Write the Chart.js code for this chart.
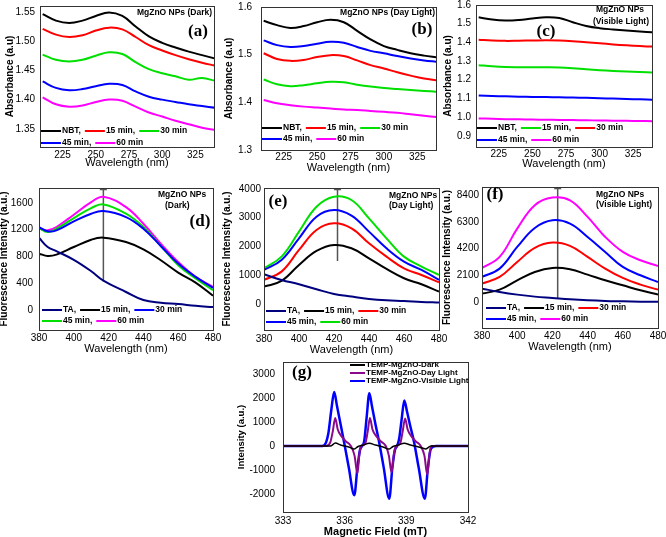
<!DOCTYPE html>
<html>
<head>
<meta charset="utf-8">
<script src="https://cdn.jsdelivr.net/npm/chart.js@4.4.1/dist/chart.umd.min.js"></script>
<style>
body { margin: 0; width: 666px; height: 537px; overflow: hidden; background: #fff; position: relative; }
canvas { position: absolute; }
</style>
</head>
<body>
<script>
const SANS = '"Liberation Sans", Arial, sans-serif';
const SERIF = '"Liberation Serif", "Times New Roman", serif';

const BLACK = '#000000', RED = '#ff0000', GREEN = '#00e000', BLUE = '#0000ff',
      MAGENTA = '#ff00ff', NAVY = '#00007f', PURPLE = '#8b0a8b', MARK = '#555555';

// ---- UV-vis absorbance (NBT) ----
const UV_X = [210, 220, 230, 240, 250, 260, 270, 280, 290, 300, 310, 320, 330, 340];
const UV_TICKS_X = [225, 250, 275, 300, 325];

const DARK_NBT = [1.546, 1.535, 1.531, 1.535, 1.543, 1.549, 1.543, 1.525, 1.508, 1.497, 1.489, 1.482, 1.476, 1.470];
const DARK_15 = [1.521, 1.511, 1.507, 1.510, 1.518, 1.523, 1.520, 1.507, 1.493, 1.484, 1.476, 1.469, 1.463, 1.458];
const DARK_30 = [1.477, 1.468, 1.465, 1.468, 1.475, 1.481, 1.478, 1.464, 1.452, 1.445, 1.440, 1.434, 1.437, 1.432];
const DARK_45 = [1.431, 1.420, 1.416, 1.418, 1.423, 1.427, 1.425, 1.414, 1.405, 1.400, 1.396, 1.392, 1.389, 1.386];
const DARK_60 = [1.404, 1.392, 1.388, 1.390, 1.396, 1.400, 1.398, 1.388, 1.378, 1.371, 1.364, 1.358, 1.352, 1.348];
const DARK_TICKS_Y = [1.35, 1.40, 1.45, 1.50, 1.55];

const DAY_NBT = [1.571, 1.562, 1.556, 1.560, 1.568, 1.573, 1.568, 1.550, 1.532, 1.518, 1.510, 1.503, 1.498, 1.494];
const DAY_15 = [1.503, 1.491, 1.487, 1.489, 1.495, 1.499, 1.497, 1.488, 1.478, 1.471, 1.463, 1.456, 1.450, 1.446];
const DAY_30 = [1.448, 1.438, 1.434, 1.436, 1.440, 1.443, 1.442, 1.437, 1.433, 1.430, 1.428, 1.426, 1.424, 1.422];
const DAY_45 = [1.530, 1.520, 1.516, 1.518, 1.523, 1.527, 1.525, 1.516, 1.508, 1.503, 1.497, 1.492, 1.488, 1.485];
const DAY_60 = [1.405, 1.398, 1.394, 1.391, 1.389, 1.387, 1.385, 1.384, 1.382, 1.380, 1.378, 1.375, 1.372, 1.369];
const DAY_TICKS_Y = [1.3, 1.4, 1.5, 1.6];

const VIS_NBT = [1.534, 1.522, 1.517, 1.520, 1.528, 1.534, 1.530, 1.508, 1.488, 1.476, 1.469, 1.463, 1.458, 1.454];
const VIS_15 = [1.278, 1.272, 1.268, 1.267, 1.267, 1.267, 1.266, 1.262, 1.256, 1.251, 1.247, 1.244, 1.241, 1.238];
const VIS_30 = [1.414, 1.410, 1.408, 1.409, 1.410, 1.411, 1.410, 1.406, 1.400, 1.395, 1.389, 1.384, 1.380, 1.377];
const VIS_45 = [1.116, 1.113, 1.111, 1.109, 1.108, 1.107, 1.106, 1.105, 1.103, 1.101, 1.099, 1.097, 1.095, 1.093];
const VIS_60 = [0.993, 0.991, 0.989, 0.988, 0.987, 0.986, 0.985, 0.984, 0.983, 0.982, 0.981, 0.980, 0.979, 0.978];
const VIS_TICKS_Y = [0.9, 1.0, 1.1, 1.2, 1.3, 1.4, 1.5, 1.6];

// ---- Fluorescence (TA) ----
const FL_TICKS_X = [380, 400, 420, 440, 460, 480];

const FD_X = [380, 385, 390, 400, 410, 417, 430, 440, 450, 460, 470, 480];
const FD_TA = [1080, 940, 880, 750, 580, 440, 270, 150, 110, 90, 65, 45];
const FD_15 = [842, 807, 827, 941, 1050, 1080, 1015, 906, 743, 560, 411, 215];
const FD_30 = [1238, 1174, 1189, 1323, 1437, 1476, 1387, 1214, 956, 694, 495, 332];
const FD_45 = [1224, 1164, 1214, 1372, 1521, 1575, 1437, 1238, 956, 669, 471, 297];
const FD_60 = [1214, 1189, 1238, 1422, 1610, 1690, 1536, 1288, 991, 718, 495, 347];
const FD_TICKS_Y = [0, 400, 800, 1200, 1600];

const FL_X = [380, 390, 400, 410, 420, 430, 440, 450, 460, 470, 480];
const FE_TA = [1030, 834, 683, 510, 347, 255, 174, 127, 104, 70, 46];
const FE_15 = [602, 799, 1355, 1841, 2050, 1934, 1586, 1216, 892, 683, 428];
const FE_30 = [834, 1123, 1876, 2571, 2802, 2629, 2108, 1644, 1239, 1007, 753];
const FE_45 = [1181, 1529, 2281, 3034, 3266, 3069, 2513, 1934, 1471, 1181, 834];
const FE_60 = [1239, 1644, 2513, 3381, 3729, 3613, 2976, 2281, 1644, 1297, 1007];
const FE_TICKS_Y = [0, 1000, 2000, 3000, 4000];

const FF_TA = [1050, 788, 578, 420, 315, 210, 131, 79, 52, 26, 8];
const FF_15 = [656, 971, 1706, 2363, 2678, 2573, 2153, 1706, 1313, 919, 578];
const FF_30 = [1444, 1969, 3150, 4253, 4673, 4410, 3544, 2625, 1890, 1365, 971];
const FF_45 = [1969, 2625, 4331, 5828, 6431, 6169, 5119, 3938, 2756, 2100, 1575];
const FF_60 = [2678, 3544, 5775, 7613, 8216, 8006, 6694, 5119, 3938, 3281, 2835];
const FF_TICKS_Y = [0, 2100, 4200, 6300, 8400];

// ---- EPR (TEMP) ----
const EPR_DARK_X = [333, 335.3, 335.55, 335.8, 336.2, 336.45, 336.65, 336.9, 337.2, 337.5, 337.9, 338.15, 338.35, 338.6, 338.9, 339.2, 339.6, 339.95, 340.2, 342];
const EPR_DARK_Y = [0, 0, 120, 40, -40, -130, -20, 40, 110, 40, -50, -130, -20, 40, 110, 40, -40, -120, 0, 0];
const EPR_DAY_X = [333, 335.1, 335.3, 335.42, 335.54, 335.66, 335.85, 336.05, 336.3, 336.48, 336.62, 336.72, 336.82, 337.0, 337.12, 337.23, 337.35, 337.55, 337.75, 338.0, 338.15, 338.28, 338.4, 338.52, 338.7, 338.82, 338.94, 339.06, 339.25, 339.45, 339.7, 339.88, 340.02, 340.13, 340.25, 342];
const EPR_DAY_Y = [0, 0, 150, 600, 1170, 700, 400, 200, 0, -400, -1150, -300, 0, 100, 600, 1170, 700, 400, 200, 0, -400, -1100, -300, 0, 100, 600, 1150, 700, 400, 200, 0, -400, -1200, -300, 0, 0];
const EPR_VIS_X = [333, 334.8, 335.0, 335.2, 335.35, 335.49, 335.62, 335.78, 335.97, 336.2, 336.47, 336.62, 336.75, 336.85, 336.95, 337.07, 337.2, 337.33, 337.5, 337.68, 337.9, 338.17, 338.32, 338.45, 338.55, 338.65, 338.77, 338.9, 339.03, 339.2, 339.38, 339.6, 339.9, 340.05, 340.2, 340.45, 342];
const EPR_VIS_Y = [0, 0, 30, 500, 1500, 2250, 1700, 1000, 170, -900, -2050, -900, -150, 0, 200, 1200, 2200, 1650, 900, 150, -900, -2200, -900, -150, 0, 300, 1100, 1900, 1450, 800, 150, -900, -2200, -900, -100, 0, 0];
const EPR_TICKS_X = [333, 336, 339, 342];
const EPR_TICKS_Y = [-2000, -1000, 0, 1000, 2000, 3000];

const UV_LABELS = ['NBT,', '15 min,', '30 min', '45 min,', '60 min'];
const FL_LABELS = ['TA,', '15 min,', '30 min', '45 min,', '60 min'];
const EPR_LABELS = ['TEMP-MgZnO-Dark', 'TEMP-MgZnO-Day Light', 'TEMP-MgZnO-Visible Light'];

function series(x, ys, colors, labels) {
    return ys.map((y, i) => ({ x: x, y: y, color: colors[i], label: labels[i] }));
}

const decor = {
    id: 'decor',
    afterDatasetsDraw(chart, args, opts) {
        const { ctx, chartArea: a } = chart;
        ctx.save();
        ctx.strokeStyle = '#333';
        ctx.lineWidth = 1;
        ctx.strokeRect(Math.round(a.left) + 0.5, Math.round(a.top) + 0.5,
            Math.round(a.right - a.left), Math.round(a.bottom - a.top));

        // legend
        const lg = opts.legend;
        if (lg) {
            ctx.font = lg.font;
            ctx.textBaseline = 'middle';
            ctx.textAlign = 'left';
            lg.rows.forEach((row, r) => {
                let x = lg.x - opts.ox;
                const y = lg.y[r] - opts.oy;
                row.forEach(i => {
                    const ds = chart.data.datasets[i];
                    ctx.strokeStyle = ds.borderColor;
                    ctx.lineWidth = 2;
                    ctx.beginPath();
                    ctx.moveTo(x, y);
                    ctx.lineTo(x + lg.len, y);
                    ctx.stroke();
                    x += lg.len + 1;
                    ctx.fillStyle = '#000';
                    ctx.fillText(ds.label, x, y);
                    x += ctx.measureText(ds.label).width + lg.gap;
                });
            });
        }

        // panel notes
        (opts.notes || []).forEach(n => {
            ctx.font = n.big ? 'bold 17px ' + SERIF : 'bold 8.5px ' + SANS;
            ctx.fillStyle = '#000';
            ctx.textAlign = n.align || 'center';
            ctx.textBaseline = 'middle';
            ctx.fillText(n.t, n.x - opts.ox, n.y - opts.oy);
        });
        ctx.restore();
    }
};

function drawPanel(p) {
    const [cx, cy, cw, ch] = p.box;
    const [L, T, R, B] = p.area;
    const cv = document.createElement('canvas');
    cv.width = cw;
    cv.height = ch;
    cv.style.left = cx + 'px';
    cv.style.top = cy + 'px';
    document.body.appendChild(cv);

    const datasets = p.series.map(s => ({
        label: s.label,
        data: s.x.map((x, i) => ({ x: x, y: s.y[i] })),
        borderColor: s.color,
        borderWidth: s.width || 2,
        pointRadius: 0,
        tension: 0.4,
        cubicInterpolationMode: p.mono ? 'monotone' : 'default',
        fill: false
    }));
    if (p.mark) {
        datasets.push({
            data: [{ x: p.mark[0], y: p.yr[1] }, { x: p.mark[0], y: p.mark[1] }],
            borderColor: MARK,
            backgroundColor: MARK,
            borderWidth: 1.5,
            pointRadius: [3, 0],
            pointStyle: 'triangle',
            tension: 0
        });
    }

    new Chart(cv, {
        type: 'line',
        data: { datasets: datasets },
        options: {
            responsive: false,
            animation: false,
            devicePixelRatio: 1,
            layout: { padding: { left: 0, top: T - cy, right: cx + cw - R, bottom: 0 } },
            plugins: {
                legend: { display: false },
                tooltip: { enabled: false },
                decor: { legend: p.legend, notes: p.notes, ox: cx, oy: cy }
            },
            scales: {
                x: {
                    type: 'linear', min: p.xr[0], max: p.xr[1],
                    grid: { display: false, drawTicks: false },
                    border: { display: false },
                    ticks: { color: '#000', font: { family: SANS, size: 10 }, padding: p.xPad, maxRotation: 0, autoSkip: false },
                    afterBuildTicks: s => { s.ticks = p.xTicks.map(v => ({ value: v })); },
                    afterFit: s => {
                        s.height = cy + ch - B;
                        s.paddingLeft = s.paddingRight = s.paddingTop = s.paddingBottom = 0;
                    },
                    title: {
                        display: true, text: p.xTitle, color: '#000',
                        font: { family: SANS, size: 11, weight: p.xBold ? 'bold' : 'normal' },
                        padding: { top: 0, bottom: 2 }
                    }
                },
                y: {
                    type: 'linear', min: p.yr[0], max: p.yr[1],
                    grid: { display: false, drawTicks: false },
                    border: { display: false },
                    ticks: { color: '#000', font: { family: SANS, size: 10 }, padding: p.yPad, autoSkip: false, callback: p.fmt },
                    afterBuildTicks: s => { s.ticks = p.yTicks.map(v => ({ value: v })); },
                    afterFit: s => {
                        s.width = L - cx;
                        s.paddingLeft = s.paddingRight = s.paddingTop = s.paddingBottom = 0;
                    },
                    title: {
                        display: true, text: p.yTitle, color: '#000',
                        font: { family: SANS, size: p.ySize || 10, weight: 'bold' },
                        padding: { top: p.yTitlePad, bottom: 0 }
                    }
                }
            }
        },
        plugins: [decor]
    });
}

const fix2 = v => v.toFixed(2);
const fix1 = v => v.toFixed(1);
const int = v => String(v);
const UV_ROWS = [[0, 1, 2], [3, 4]];
const LG_FONT = 'bold 8.5px ' + SANS;

const panels = [
    {
        box: [0, 0, 222, 172], area: [40, 6, 214, 147], xr: [208, 339], yr: [1.319, 1.56],
        xTicks: UV_TICKS_X, yTicks: DARK_TICKS_Y, fmt: fix2, xPad: 2, yPad: 5, yTitlePad: 4,
        xTitle: 'Wavelength (nm)', yTitle: 'Absorbance (a.u)',
        series: series(UV_X, [DARK_NBT, DARK_15, DARK_30, DARK_45, DARK_60], [BLACK, RED, GREEN, BLUE, MAGENTA], UV_LABELS),
        legend: { x: 41, y: [131, 143], rows: UV_ROWS, len: 20, gap: 4, font: LG_FONT },
        notes: [{ t: '(a)', x: 198, y: 32, big: true }, { t: 'MgZnO NPs (Dark)', x: 212, y: 13, align: 'right' }]
    },
    {
        box: [222, 0, 222, 177], area: [261, 7, 436, 150], xr: [208, 339], yr: [1.3, 1.6],
        xTicks: UV_TICKS_X, yTicks: DAY_TICKS_Y, fmt: fix1, xPad: 1, yPad: 9, yTitlePad: 1,
        xTitle: 'Wavelength (nm)', yTitle: 'Absorbance (a.u)',
        series: series(UV_X, [DAY_NBT, DAY_15, DAY_30, DAY_45, DAY_60], [BLACK, RED, GREEN, BLUE, MAGENTA], UV_LABELS),
        legend: { x: 262, y: [128, 139], rows: UV_ROWS, len: 20, gap: 4, font: LG_FONT },
        notes: [{ t: '(b)', x: 422, y: 30, big: true }, { t: 'MgZnO NPs (Day Light)', x: 435, y: 13, align: 'right' }]
    },
    {
        box: [442, 0, 224, 173], area: [476, 5, 652, 147], xr: [208, 339], yr: [0.84, 1.6],
        xTicks: UV_TICKS_X, yTicks: VIS_TICKS_Y, fmt: fix1, xPad: 1, yPad: 5, yTitlePad: 0,
        xTitle: 'Wavelength (nm)', yTitle: 'Absorbance (a.u)',
        series: series(UV_X, [VIS_NBT, VIS_15, VIS_30, VIS_45, VIS_60], [BLACK, GREEN, RED, BLUE, MAGENTA], UV_LABELS),
        legend: { x: 477, y: [128, 140], rows: UV_ROWS, len: 20, gap: 4, font: LG_FONT },
        notes: [{ t: '(c)', x: 546, y: 32, big: true }, { t: 'MgZnO NPs', x: 620, y: 10 }, { t: '(Visible Light)', x: 621, y: 22 }]
    },
    {
        box: [-2, 180, 224, 178], area: [39, 188, 213, 330], xr: [380, 480], yr: [-296, 1820],
        xTicks: FL_TICKS_X, yTicks: FD_TICKS_Y, fmt: int, xPad: 2, yPad: 6, yTitlePad: 0,
        xTitle: 'Wavelength (nm)', yTitle: 'Fluorescence Intensity (a.u.)',
        series: series(FD_X, [FD_TA, FD_15, FD_30, FD_45, FD_60], [NAVY, BLACK, BLUE, GREEN, MAGENTA], FL_LABELS),
        mark: [417, 430],
        legend: { x: 42, y: [310, 321], rows: UV_ROWS, len: 20, gap: 4, font: LG_FONT },
        notes: [{ t: '(d)', x: 200, y: 222, big: true }, { t: 'MgZnO NPs', x: 158, y: 195, align: 'left' }, { t: '(Dark)', x: 165, y: 206, align: 'left' }]
    },
    {
        box: [221, 180, 230, 179], area: [264, 188, 439, 330], xr: [380, 480], yr: [-906, 4030],
        xTicks: FL_TICKS_X, yTicks: FE_TICKS_Y, fmt: int, xPad: 3, yPad: 3, yTitlePad: 0,
        xTitle: 'Wavelength (nm)', yTitle: 'Fluorescence Intensity (a.u.)',
        series: series(FL_X, [FE_TA, FE_15, FE_30, FE_45, FE_60], [NAVY, BLACK, RED, BLUE, GREEN], FL_LABELS),
        mark: [422, 1490],
        legend: { x: 266, y: [311, 322], rows: UV_ROWS, len: 20, gap: 4, font: LG_FONT },
        notes: [{ t: '(e)', x: 278, y: 202, big: true }, { t: 'MgZnO NPs', x: 389, y: 196, align: 'left' }, { t: '(Day Light)', x: 389, y: 206, align: 'left' }]
    },
    {
        box: [441, 180, 225, 176], area: [482, 187, 658, 328], xr: [380, 480], yr: [-2050, 9050],
        xTicks: FL_TICKS_X, yTicks: FF_TICKS_Y, fmt: int, xPad: 2, yPad: 3, yTitlePad: 0,
        xTitle: 'Wavelength (nm)', yTitle: 'Fluorescence Intensity (a.u.)',
        series: series(FL_X, [FF_TA, FF_15, FF_30, FF_45, FF_60], [NAVY, BLACK, RED, BLUE, MAGENTA], FL_LABELS),
        mark: [423, 315],
        legend: { x: 486, y: [308, 319], rows: UV_ROWS, len: 20, gap: 4, font: LG_FONT },
        notes: [{ t: '(f)', x: 495, y: 195, big: true }, { t: 'MgZnO NPs', x: 596, y: 195, align: 'left' }, { t: '(Visible Light)', x: 596, y: 205, align: 'left' }]
    },
    {
        box: [236, 355, 250, 186], area: [283, 362, 468, 512], xr: [333, 342], yr: [-2750, 3500],
        xTicks: EPR_TICKS_X, yTicks: EPR_TICKS_Y, fmt: int, xPad: 3, yPad: 8, yTitlePad: 0, ySize: 9.5, xBold: true, mono: true,
        xTitle: 'Magnetic Field (mT)', yTitle: 'Intensity (a.u.)',
        series: [
            { x: EPR_DARK_X, y: EPR_DARK_Y, color: BLACK, label: EPR_LABELS[0], width: 1.5 },
            { x: EPR_DAY_X, y: EPR_DAY_Y, color: PURPLE, label: EPR_LABELS[1], width: 2 },
            { x: EPR_VIS_X, y: EPR_VIS_Y, color: BLUE, label: EPR_LABELS[2], width: 2.5 }
        ],
        legend: { x: 350, y: [365, 373, 381], rows: [[0], [1], [2]], len: 15, gap: 4, font: 'bold 8px ' + SANS },
        notes: [{ t: '(g)', x: 302, y: 373, big: true }]
    }
];

panels.forEach(drawPanel);
</script>
</body>
</html>
